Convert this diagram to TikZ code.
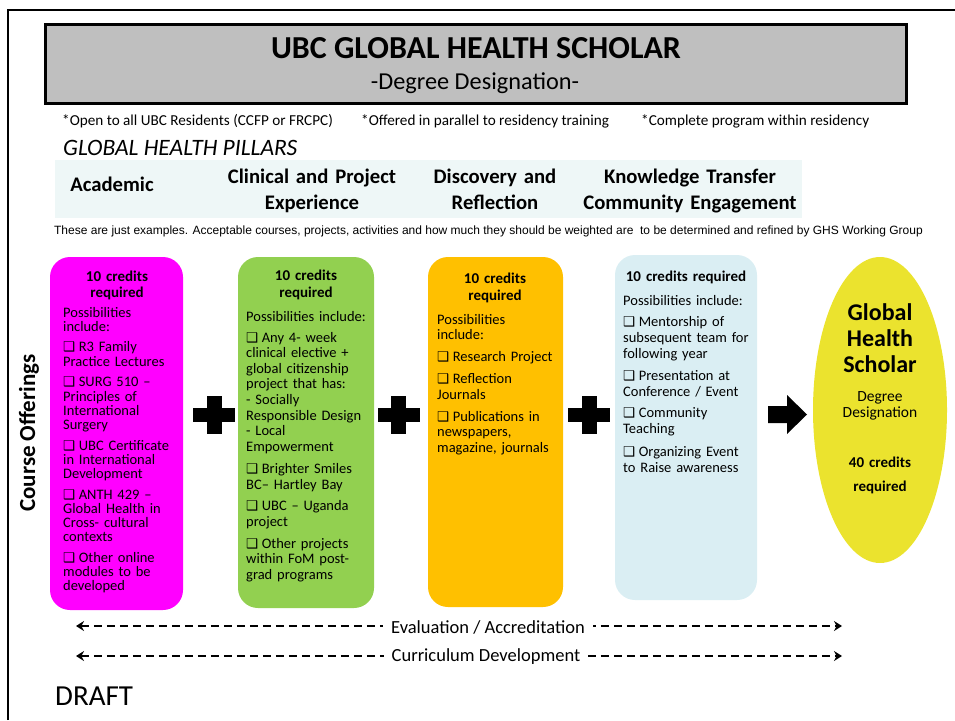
\documentclass[tikz,border=0pt]{standalone}
\usepackage{fontspec}
\setmainfont{Carlito}
\newfontfamily\symfont{DejaVu Sans}
\newfontfamily\arialfont{Liberation Sans}
\usetikzlibrary{arrows.meta,shapes.geometric}
\definecolor{magC}{HTML}{FF00FF}
\definecolor{grnC}{HTML}{92D050}
\definecolor{orgC}{HTML}{FFC000}
\definecolor{bluC}{HTML}{DAEEF3}
\definecolor{yelC}{HTML}{EBE32E}
\definecolor{bandC}{HTML}{EEF7F7}
\definecolor{titleC}{HTML}{BFBFBF}
\newcommand{\cbx}{{\symfont\bfseries\fontsize{13.5}{13.5}\selectfont ❑}\hspace{3.5pt}}
\begin{document}
\begin{tikzpicture}[x=1pt,y=-1pt,
  credbox/.style={rounded corners=20pt, inner sep=0pt},
  hdr/.style={anchor=base, text width=125pt, align=center, inner sep=0pt,
              font=\bfseries\fontsize{15}{#1}\selectfont},
  body/.style={anchor=base west, text width=130pt, align=left, inner sep=0pt,
               font=\fontsize{14.5}{#1}\selectfont},
  pillar/.style={anchor=base, text width=240pt, align=center, inner sep=0pt,
                 font=\bfseries\fontsize{20.7}{26}\selectfont},
  note/.style={anchor=base west, inner sep=0pt, font=\fontsize{15.2}{17}\selectfont},
  dasharrow/.style={line width=2.5pt, dash pattern=on 8pt off 5pt,
                    {Stealth[length=8pt,width=10pt]}-{Stealth[length=8pt,width=10pt]}},
  plussign/.style={fill=black}
]
\useasboundingbox (0,0) rectangle (955,720);
% outer frame
\draw[line width=2pt] (8,720) -- (8,10) -- (955,10);

% title box
\node[draw, line width=3pt, fill=titleC, minimum width=861pt, minimum height=79pt, inner sep=0pt] (title) at (476,64) {};
\node[anchor=base, inner sep=0pt, font=\bfseries\fontsize{32}{34}\selectfont] (t1) at (476,58) {UBC GLOBAL HEALTH SCHOLAR};
\node[anchor=base, inner sep=0pt, font=\fontsize{24.3}{26}\selectfont] (t2) at (475,89) {-Degree Designation-};

% notes
\node[note] (n1) at (62,125.5) {*Open to all UBC Residents (CCFP or FRCPC)};
\node[note] (n2) at (361,125.5) {*Offered in parallel to residency training};
\node[note] (n3) at (641,125.5) {*Complete program within residency};

% pillars
\node[anchor=base west, inner sep=0pt, font=\itshape\fontsize{23.5}{26}\selectfont] (pil) at (63,155.5) {GLOBAL HEALTH PILLARS};
\node[fill=bandC, minimum width=747pt, minimum height=58pt, inner sep=0pt] (band) at (428.5,189) {};
\node[pillar] (p1) at (112,191) {Academic};
\node[pillar] (p2) at (312,183) {Clinical and Project\\Experience};
\node[pillar] (p3) at (495,183) {Discovery and\\Reflection};
\node[pillar] (p4) at (690,183) {Knowledge Transfer\\Community Engagement};

\node[anchor=base, inner sep=0pt, font=\arialfont\fontsize{12}{13}\selectfont] (ex) at (488.5,234) {These are just examples. Acceptable courses, projects, activities and how much they should be weighted are\ \ to be determined and refined by GHS Working Group};

% course offerings label
\node[rotate=90, inner sep=0pt, font=\bfseries\fontsize{23}{24}\selectfont] (co) at (29,433) {Course Offerings};

% boxes
\node[credbox, fill=magC, minimum width=133pt, minimum height=353pt] (b1) at (116.5,433.5) {};
\node[credbox, fill=grnC, minimum width=136pt, minimum height=351pt] (b2) at (306,432.5) {};
\node[credbox, fill=orgC, minimum width=135pt, minimum height=350pt] (b3) at (495.5,432) {};
\node[credbox, fill=bluC, minimum width=142pt, minimum height=345pt] (b4) at (686,427.5) {};
\node[ellipse, fill=yelC, minimum width=134pt, minimum height=306pt, inner sep=0pt] (b5) at (880,410) {};

% box 1
\node[hdr=15.5] (h1) at (117,281.5) {10 credits\\required};
\node[body=14.2] (x1) at (63,317) {Possibilities\\include:\\[6.5pt]
\cbx R3 Family\\Practice Lectures\\[6.5pt]
\cbx SURG 510 --\\Principles of\\International\\Surgery\\[6.5pt]
\cbx UBC Certificate\\in International\\Development\\[6.5pt]
\cbx ANTH 429 --\\Global Health in\\Cross- cultural\\contexts\\[6.5pt]
\cbx Other online\\modules to be\\developed};

% box 2
\node[hdr=17] (h2) at (306,280.5) {10 credits\\required};
\node[body=15.6] (x2) at (246,321) {Possibilities include:\\[5.5pt]
\cbx Any 4- week\\clinical elective +\\global citizenship\\project that has:\\- Socially\\Responsible Design\\- Local\\Empowerment\\[7pt]
\cbx Brighter Smiles\\BC-- Hartley Bay\\[5.5pt]
\cbx UBC -- Uganda\\project\\[6.5pt]
\cbx Other projects\\within FoM post-\\grad programs};

% box 3
\node[hdr=17] (h3) at (495,283.5) {10 credits\\required};
\node[body=15.5] (x3) at (437,324) {Possibilities\\include:\\[6.5pt]
\cbx Research Project\\[6.5pt]
\cbx Reflection\\Journals\\[6.5pt]
\cbx Publications in\\newspapers,\\magazine, journals};

% box 4
\node[hdr=17, text width=140pt] (h4) at (686,281.5) {10 credits required};
\node[body=16] (x4) at (623,305) {Possibilities include:\\[5pt]
\cbx Mentorship of\\subsequent team for\\following year\\[6pt]
\cbx Presentation at\\Conference / Event\\[5.5pt]
\cbx Community\\Teaching\\[7pt]
\cbx Organizing Event\\to Raise awareness};

% ellipse text
\node[anchor=base, text width=130pt, align=center, inner sep=0pt, font=\bfseries\fontsize{24}{26}\selectfont] (g1) at (880,320) {Global\\Health\\Scholar};
\node[anchor=base, text width=130pt, align=center, inner sep=0pt, font=\fontsize{15.5}{16}\selectfont] (g2) at (880,401.5) {Degree\\Designation};
\node[anchor=base, text width=130pt, align=center, inner sep=0pt, font=\bfseries\fontsize{15}{24}\selectfont] (g3) at (880,467) {40 credits\\required};

% plus signs
\foreach \cx in {214,398.5,589}{
  \fill[plussign] (\cx-21,408) rectangle (\cx+21,422);
  \fill[plussign] (\cx-7.5,396) rectangle (\cx+7.5,434);
}
% big arrow
\fill (768,406) -- (787,406) -- (787,395) -- (807,414.5) -- (787,434) -- (787,423) -- (768,423) -- cycle;

% dashed arrows
\coordinate (e1l) at (76,626);
\coordinate (e1r) at (842,626);
\coordinate (e2l) at (76,656);
\coordinate (e2r) at (842,656);
\draw[dasharrow] (e1l) -- (e1r);
\draw[dasharrow] (e2l) -- (e2r);
\node[fill=white, inner xsep=8pt, inner ysep=1pt, font=\fontsize{18.5}{20}\selectfont] (ev) at (488,627) {Evaluation / Accreditation};
\node[fill=white, inner xsep=8pt, inner ysep=1pt, font=\fontsize{18.5}{20}\selectfont] (cd) at (486,657) {Curriculum Development};

% draft
\node[anchor=base west, inner sep=0pt, font=\fontsize{29}{30}\selectfont] (dr) at (55,705) {DRAFT};
\end{tikzpicture}
\end{document}
